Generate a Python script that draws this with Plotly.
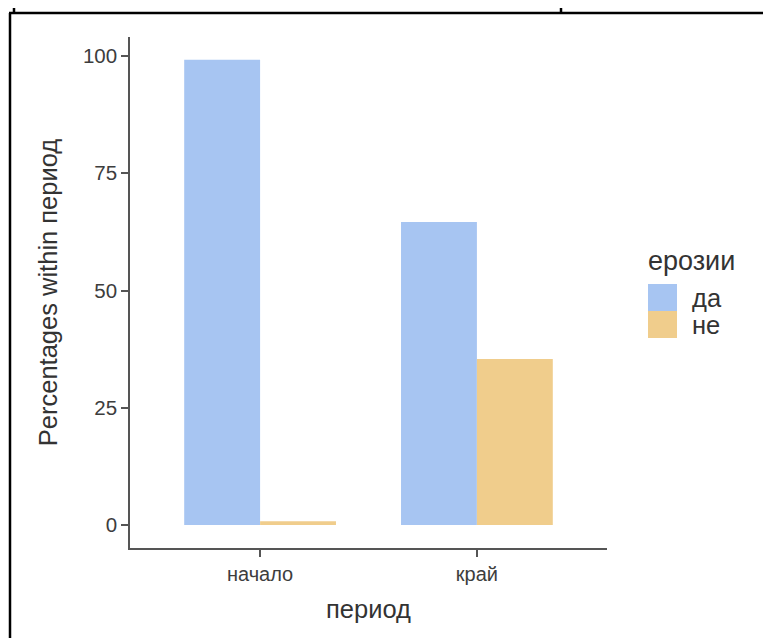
import plotly.graph_objects as go

periods = ["начало", "край"]
erosion_levels = ["да", "не"]
pct_da = [99.2, 64.6]
pct_ne = [0.8, 35.4]
y_ticks = [0, 25, 50, 75, 100]

colors = {"да": "#A7C5F2", "не": "#F0CD8C"}

OFF = 8  # default page body margin
SW, SH = 771, 638  # screen size
W, H = SW - OFF, SH - OFF
L, R, T, B = 130, 607, 37, 548  # plot area in screen pixels


def px_x(px):
    return (px - L) / (R - L)


def px_y(py):
    return (B - py) / (B - T)


fig = go.Figure()
for name, vals in zip(erosion_levels, [pct_da, pct_ne]):
    fig.add_trace(go.Bar(x=periods, y=vals, name=name, marker=dict(color=colors[name], line=dict(width=0)),
                         showlegend=False))

font_main = "Liberation Sans, Arial, sans-serif"

fig.update_layout(
    width=W, height=H,
    margin=dict(l=L - OFF, r=W - (R - OFF), t=T - OFF, b=H - (B - OFF)),
    paper_bgcolor="white", plot_bgcolor="white",
    barmode="group", bargap=0.3, bargroupgap=0,
    font=dict(family=font_main, color="#333333"),
)
fig.update_xaxes(
    range=[-0.6, 1.6], showgrid=False, zeroline=False,
    showline=True, linecolor="#555555", linewidth=1.5,
    ticks="outside", ticklen=7, tickwidth=1.5, tickcolor="#555555",
    tickfont=dict(size=20, color="#3d3d3d", family=font_main),
    title=dict(text="период", font=dict(size=25.5, color="#333333"), standoff=16),
)
fig.update_yaxes(
    range=[-4.9, 104.05], showgrid=False, zeroline=False,
    showline=True, linecolor="#555555", linewidth=1.5,
    ticks="outside", ticklen=7, tickwidth=1.5, tickcolor="#555555",
    tickvals=y_ticks, ticktext=[str(v) for v in y_ticks],
    tickfont=dict(size=20.5, color="#3d3d3d", family=font_main),
    title=dict(text="Percentages within период", font=dict(size=25.5, color="#333333"), standoff=18),
)

shapes = []


def line_px(x0, y0, x1, y1):
    return dict(type="line", xref="paper", yref="paper",
                xsizemode="pixel", ysizemode="pixel", xanchor=0, yanchor=0,
                x0=x0 - L, x1=x1 - L, y0=B - y0, y1=B - y1,
                line=dict(color="black", width=2.5), layer="above")


# surrounding table borders
shapes.append(line_px(9, 13, 775, 13))
shapes.append(line_px(14, -5, 14, 13))
shapes.append(line_px(561, -5, 561, 13))
shapes.append(line_px(10, 13, 10, 645))


def rect_px(x0, y0, x1, y1, color):
    return dict(type="rect", xref="paper", yref="paper",
                xsizemode="pixel", ysizemode="pixel", xanchor=0, yanchor=0,
                x0=x0 - L, x1=x1 - L, y0=B - y0, y1=B - y1,
                fillcolor=color, line=dict(width=0), layer="above")


# legend keys
shapes.append(rect_px(648, 284, 677, 311, colors["да"]))
shapes.append(rect_px(648, 311, 677, 338, colors["не"]))
fig.update_layout(shapes=shapes)

annotations = [
    dict(text="ерозии", x=px_x(646), y=px_y(261), xref="paper", yref="paper",
         xanchor="left", yanchor="middle", showarrow=False,
         font=dict(size=27, color="#333333", family=font_main)),
    dict(text="да", x=px_x(690), y=px_y(298), xref="paper", yref="paper",
         xanchor="left", yanchor="middle", showarrow=False,
         font=dict(size=25.5, color="#333333", family=font_main)),
    dict(text="не", x=px_x(690), y=px_y(325), xref="paper", yref="paper",
         xanchor="left", yanchor="middle", showarrow=False,
         font=dict(size=25.5, color="#333333", family=font_main)),
]
fig.update_layout(annotations=annotations)

fig.write_html("out.html")
